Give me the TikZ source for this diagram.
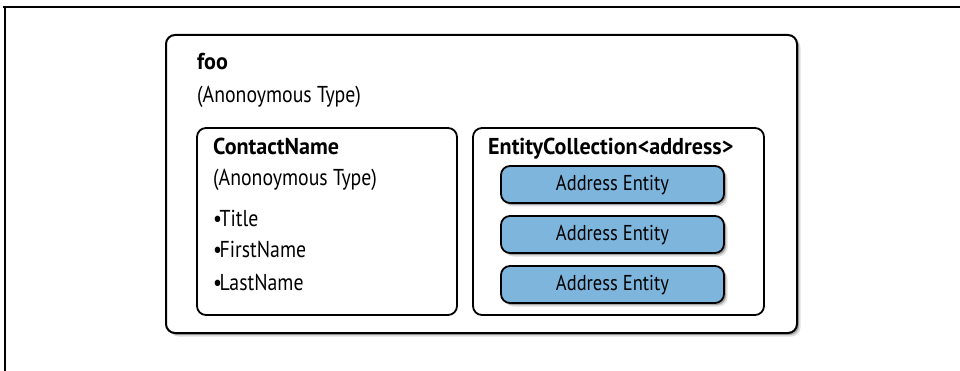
\documentclass[tikz,border=0pt]{standalone}
\usepackage{fontspec}
\setmainfont[FakeStretch=0.86, BoldFeatures={FakeStretch=0.96}]{PT Sans}
\usetikzlibrary{shadows}
\definecolor{entblue}{RGB}{125,181,221}
\newcommand{\bul}{•\kern-2.5pt}
\tikzset{
  x=1pt, y=-1pt,
  softshadow/.style={
    drop shadow={shadow xshift=2pt, shadow yshift=-2pt, opacity=0.35, fill=black!80},
    drop shadow={shadow xshift=3.5pt, shadow yshift=-3.5pt, opacity=0.2, fill=black!60}},
  outerbox/.style={draw=black, line width=2pt, rounded corners=9pt, fill=white, softshadow},
  innerbox/.style={draw=black, line width=1.8pt, rounded corners=9pt, fill=white},
  entbox/.style={draw=black, line width=1.8pt, rounded corners=9pt, fill=entblue, softshadow},
  txt/.style={anchor=base west, inner sep=0pt, font=\fontsize{23}{27}\selectfont},
  btxt/.style={txt, font=\fontsize{23}{27}\selectfont\bfseries},
  entxt/.style={inner sep=0pt, font=\fontsize{21.5}{25}\selectfont},
  frameline/.style={line width=1.4pt}
}
\begin{document}
\begin{tikzpicture}
\useasboundingbox (0,0) rectangle (960,371);
% page frame
\coordinate (ftl) at (5,7);
\coordinate (ftr) at (960,7);
\coordinate (fbl) at (5,371);
\draw[frameline] (ftr) -- (3,7);
\draw[frameline] (ftl) -- (fbl);
% outer box
\path[outerbox] (166,35) rectangle (797,333);
\node[btxt] (foo) at (197,70) {foo};
\node[txt] (footype) at (197,103) {(Anonoymous Type)};
% ContactName box
\path[innerbox] (197,128) rectangle (457,315);
\node[btxt] (cn) at (213,155) {ContactName};
\node[txt] (cntype) at (213,186) {(Anonoymous Type)};
\node[txt] (t1) at (213,226) {\bul Title};
\node[txt] (t2) at (213,258) {\bul FirstName};
\node[txt] (t3) at (213,290) {\bul LastName};
% EntityCollection box
\path[innerbox] (473,128) rectangle (764,315);
\node[btxt] (ec) at (488,155) {EntityCollection<address>};
\foreach \i/\t in {1/166,2/216,3/266}{
  \path[entbox] (501,\t) rectangle (724,\t+37);
  \node[entxt] (ae\i) at (612.5,\t+19.5) {Address Entity};
}
\end{tikzpicture}
\end{document}
